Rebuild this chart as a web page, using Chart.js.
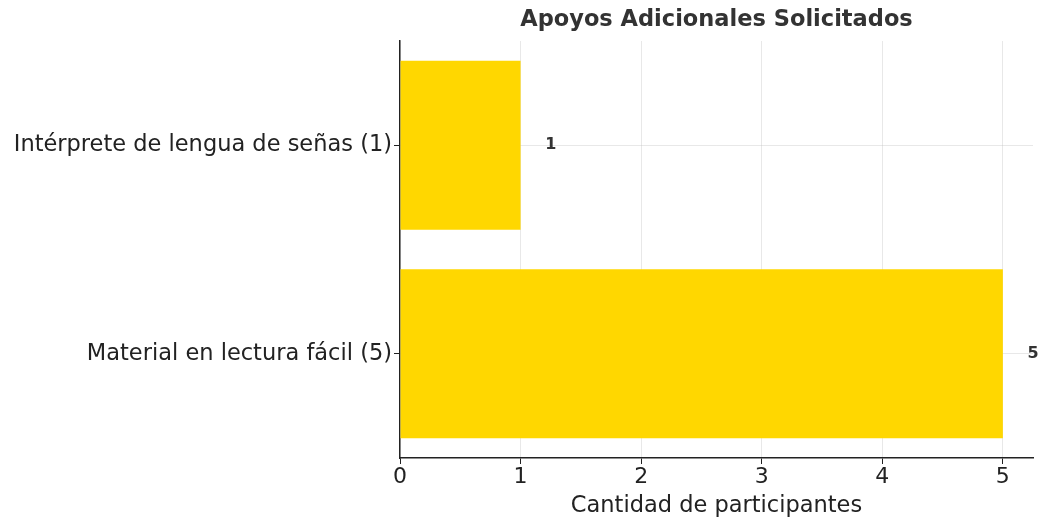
<!DOCTYPE html>
<html>
<head>
<meta charset="utf-8">
<script src="https://cdn.jsdelivr.net/npm/chart.js@4.4.1/dist/chart.umd.min.js"></script>
<style>
    html, body { margin: 0; padding: 0; background: #ffffff; }
    #wrap { width: 1043px; height: 520px; position: relative; }
</style>
</head>
<body>
<div id="wrap"><canvas id="apoyosChart"></canvas></div>
<script>
// Data
const categories = ['Intérprete de lengua de señas (1)', 'Material en lectura fácil (5)'];
const participantes = [1, 5];
const xTicks = [0, 1, 2, 3, 4, 5];

const FONT = "'DejaVu Sans', sans-serif";

// Value labels to the right of each bar
const valueLabels = {
    id: 'valueLabels',
    afterDatasetsDraw(chart) {
        const ctx = chart.ctx;
        const xScale = chart.scales.x;
        const meta = chart.getDatasetMeta(0);
        ctx.save();
        ctx.font = 'bold 16px ' + FONT;
        ctx.fillStyle = '#333333';
        ctx.textAlign = 'center';
        ctx.textBaseline = 'middle';
        meta.data.forEach((bar, i) => {
            const v = participantes[i];
            ctx.fillText(String(v), xScale.getPixelForValue(v + 0.25), bar.y);
        });
        ctx.restore();
    }
};

new Chart(document.getElementById('apoyosChart'), {
    type: 'bar',
    data: {
        labels: categories,
        datasets: [{
            data: participantes,
            backgroundColor: '#FFD700',
            borderWidth: 0,
            categoryPercentage: 1.0,
            barPercentage: 0.81
        }]
    },
    options: {
        indexAxis: 'y',
        responsive: true,
        maintainAspectRatio: false,
        animation: false,
        layout: { padding: { top: 0, right: 10, left: 0, bottom: 0 } },
        plugins: {
            legend: { display: false },
            tooltip: { enabled: false },
            title: {
                display: true,
                text: 'Apoyos Adicionales Solicitados',
                fullSize: false,
                color: '#333333',
                font: { family: FONT, size: 22.5, weight: 'bold' },
                padding: { top: 7, bottom: 7 }
            }
        },
        scales: {
            x: {
                min: 0,
                max: 5.25,
                z: 1,
                afterBuildTicks(scale) {
                    scale.ticks = xTicks.map(v => ({ value: v }));
                },
                afterFit(scale) { scale.height = 62; },
                grid: {
                    color: 'rgba(190,190,190,0.35)',
                    lineWidth: 1,
                    drawTicks: true,
                    tickLength: 6,
                    tickColor: '#222222'
                },
                border: { display: true, color: '#222222', width: 1.5 },
                ticks: {
                    color: '#222222',
                    font: { family: FONT, size: 22 },
                    padding: 0
                },
                title: {
                    display: true,
                    text: 'Cantidad de participantes',
                    color: '#222222',
                    font: { family: FONT, size: 22.5 },
                    padding: { top: 0, bottom: 0 }
                }
            },
            y: {
                z: 1,
                afterFit(scale) { scale.width = 400; },
                grid: {
                    offset: false,
                    color: 'rgba(190,190,190,0.35)',
                    lineWidth: 1,
                    drawTicks: true,
                    tickLength: 6,
                    tickColor: '#222222'
                },
                border: { display: true, color: '#222222', width: 1.5 },
                ticks: {
                    color: '#222222',
                    font: { family: FONT, size: 22.5 },
                    padding: 2
                }
            }
        }
    },
    plugins: [valueLabels]
});
</script>
</body>
</html>
